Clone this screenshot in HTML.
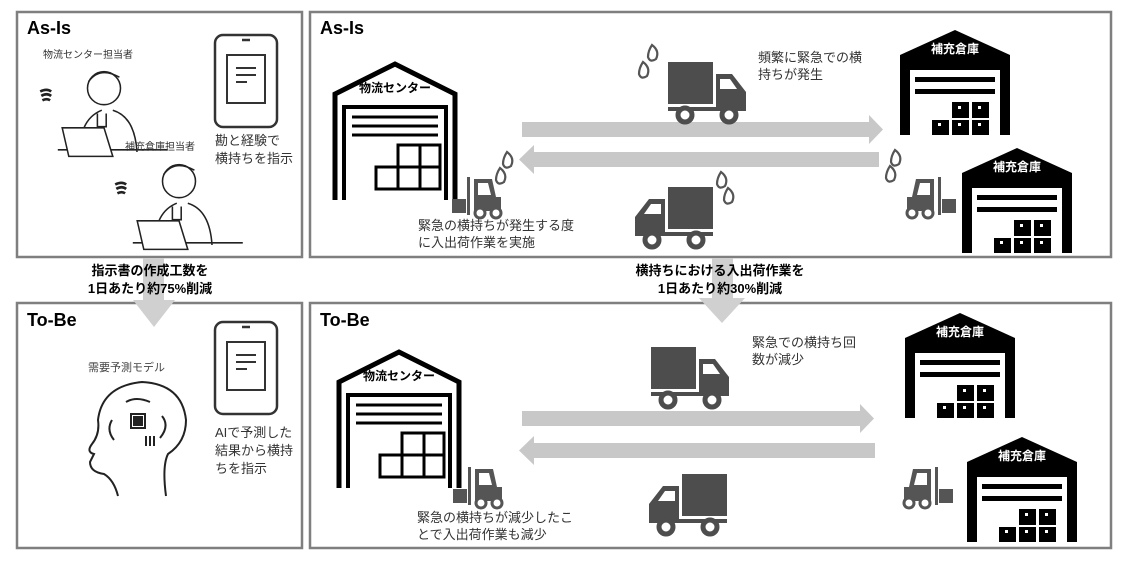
<!DOCTYPE html>
<html><head><meta charset="utf-8"><style>
body{margin:0;width:1129px;height:573px;background:#fff;overflow:hidden}
svg{display:block}
text{font-family:"Liberation Sans","Noto Sans CJK JP",sans-serif}
</style></head><body>
<svg width="1129" height="573" viewBox="0 0 1129 573" xmlns="http://www.w3.org/2000/svg">
<defs>
<g id="wh">
<polygon points="0,25 55,0 110,25 110,105 0,105" fill="#000"/>
<rect x="10" y="40" width="90" height="65" fill="#fff"/>
<rect x="15" y="47" width="80" height="5" fill="#000"/>
<rect x="15" y="59" width="80" height="5" fill="#000"/>
<rect x="52" y="72" width="17" height="16" fill="#000"/><rect x="72" y="72" width="17" height="16" fill="#000"/>
<rect x="32" y="90" width="17" height="15" fill="#000"/><rect x="52" y="90" width="17" height="15" fill="#000"/><rect x="72" y="90" width="17" height="15" fill="#000"/>
<g fill="#fff"><rect x="58" y="76" width="3" height="3"/><rect x="78" y="76" width="3" height="3"/><rect x="38" y="93" width="3" height="3"/><rect x="58" y="93" width="3" height="3"/><rect x="78" y="93" width="3" height="3"/></g>
</g>
<g id="lc" fill="none" stroke="#000">
<polyline points="3,138 3,32 63,2 123,32 123,138" stroke-width="5"/>
<polyline points="12,138 12,45 114,45 114,138" stroke-width="4"/>
<line x1="20" y1="55" x2="106" y2="55" stroke-width="3"/><line x1="20" y1="64" x2="106" y2="64" stroke-width="3"/><line x1="20" y1="73" x2="106" y2="73" stroke-width="3"/>
<rect x="66" y="83" width="22" height="22" stroke-width="3"/><rect x="88" y="83" width="20" height="22" stroke-width="3"/>
<rect x="44" y="105" width="22" height="22" stroke-width="3"/><rect x="66" y="105" width="22" height="22" stroke-width="3"/><rect x="88" y="105" width="20" height="22" stroke-width="3"/>
</g>
<g id="tr" fill="#4d4d4d">
<rect x="0" y="0" width="45" height="42"/>
<path d="M48,12 h16 l14,18 v18 h-30 z"/>
<rect x="0" y="45" width="78" height="4"/>
<circle cx="17" cy="53" r="7" fill="#fff" stroke="#4d4d4d" stroke-width="5"/>
<circle cx="61" cy="53" r="7" fill="#fff" stroke="#4d4d4d" stroke-width="5"/>
<path d="M52,17 h10 l7,10 h-17z" fill="#fff"/>
</g>
<g id="fk" fill="#555">
<rect x="0" y="22" width="14" height="14"/>
<rect x="15" y="0" width="3" height="38"/>
<path d="M22,2 h18 l4,18 h5 v14 h-27z"/>
<path d="M26,6 h10 l3,12 h-13z" fill="#fff"/>
<circle cx="28" cy="36" r="5" fill="#fff" stroke="#555" stroke-width="3"/>
<circle cx="44" cy="36" r="5" fill="#fff" stroke="#555" stroke-width="3"/>
</g>
<g id="drop" fill="none" stroke="#555" stroke-width="2.2"><path d="M0,0 q8,6 4,14 q-6,4 -8,-2 q0,-6 4,-12z"/></g>
<g id="tab" fill="none" stroke="#333" stroke-width="2.5">
<rect x="0" y="0" width="62" height="92" rx="8"/>
<line x1="27" y1="5" x2="35" y2="5"/>
<rect x="12" y="20" width="38" height="48" stroke-width="2"/>
<line x1="21" y1="33" x2="41" y2="33" stroke-width="2"/><line x1="21" y1="40" x2="41" y2="40" stroke-width="2"/><line x1="21" y1="47" x2="32" y2="47" stroke-width="2"/>
</g>
<g id="per" fill="none" stroke="#222" stroke-width="1.4">
<circle cx="40" cy="22" r="15"/>
<path d="M26,16 q10,-14 28,-4"/>
<path d="M18,80 q0,-30 20,-38 M48,42 q20,6 22,38"/>
<path d="M34,45 v12 h8 v-12"/>
<path d="M-2,78 h100"/>
<path d="M2,58 h38 l8,26 h-40z" fill="#fff"/>
<path d="M-18,25 q6,-3 10,0 M-17,29 q5,-3 9,0 M-16,33 q4,-2 7,0" stroke-width="2.4"/>
</g>
</defs>

<g fill="none" stroke="#7f7f7f" stroke-width="2.5">
<rect x="17" y="12" width="285" height="245"/>
<rect x="310" y="12" width="801" height="245"/>
<rect x="17" y="303" width="285" height="245"/>
<rect x="310" y="303" width="801" height="245"/>
</g>

<g fill="#d0d0d0">
<rect x="143" y="258" width="21" height="42"/><polygon points="133,300 175,300 154,327"/>
<rect x="712" y="258" width="21" height="40"/><polygon points="699,298 745,298 722,323"/>
</g>

<g font-weight="bold" font-size="18" fill="#000">
<text x="27" y="34">As-Is</text><text x="320" y="34">As-Is</text>
<text x="27" y="326">To-Be</text><text x="320" y="326">To-Be</text>
</g>
<g font-weight="bold" font-size="13" fill="#000" text-anchor="middle">
<text x="150" y="275">指示書の作成工数を</text><text x="150" y="293">1日あたり約75%削減</text>
<text x="720" y="275">横持ちにおける入出荷作業を</text><text x="720" y="293">1日あたり約30%削減</text>
</g>

<text x="43" y="58" font-size="10" fill="#333">物流センター担当者</text>
<use href="#per" transform="translate(60,64) scale(1.1)"/>
<text x="125" y="150" font-size="10" fill="#333">補充倉庫担当者</text>
<use href="#per" transform="translate(135,157) scale(1.1)"/>
<use href="#tab" x="215" y="35"/>
<text x="215" y="145" font-size="13" fill="#333">勘と経験で</text>
<text x="215" y="163" font-size="13" fill="#333">横持ちを指示</text>

<text x="88" y="371" font-size="11" fill="#444">需要予測モデル</text>
<g fill="none" stroke="#222" stroke-width="2">
<path d="M118,496 q-4,-16 -14,-22 q-14,-2 -14,-12 l4,-8 q-8,-2 -2,-10 q8,-10 6,-24 q4,-34 44,-38 q40,2 44,38 q0,22 -18,34 q-6,12 -2,42"/>
<rect x="131" y="414" width="14" height="14"/><rect x="134" y="417" width="8" height="8" fill="#222"/>
<path d="M112,420 q-6,10 2,20 M162,416 q8,10 -2,22 M126,402 q10,-6 24,0 M150,436 v10 M146,436 v10 M154,436 v10"/>
</g>
<use href="#tab" x="215" y="322"/>
<g font-size="13" fill="#333"><text x="215" y="437">AIで予測した</text><text x="215" y="455">結果から横持</text><text x="215" y="473">ちを指示</text></g>

<use href="#lc" x="332" y="62"/>
<text x="395" y="92" font-size="12" font-weight="bold" text-anchor="middle">物流センター</text>
<use href="#wh" x="900" y="30"/>
<text x="955" y="53" font-size="12" font-weight="bold" fill="#fff" text-anchor="middle">補充倉庫</text>
<use href="#wh" x="962" y="148"/>
<text x="1017" y="171" font-size="12" font-weight="bold" fill="#fff" text-anchor="middle">補充倉庫</text>
<g fill="#c8c8c8">
<rect x="522" y="122" width="349" height="15"/><polygon points="869,115 883,129.5 869,144"/>
<rect x="533" y="152" width="346" height="15"/><polygon points="534,145 519,159.5 534,174"/>
<rect x="522" y="411" width="340" height="15"/><polygon points="860,404 874,418.5 860,433"/>
<rect x="533" y="443" width="342" height="15"/><polygon points="534,436 519,450.5 534,465"/>
</g>
<use href="#tr" x="668" y="62"/>
<use href="#tr" transform="translate(713,187) scale(-1,1)"/>
<use href="#drop" x="652" y="45"/><use href="#drop" x="643" y="62"/>
<use href="#drop" x="721" y="172"/><use href="#drop" x="728" y="188"/>
<use href="#drop" x="507" y="152"/><use href="#drop" x="500" y="168"/>
<use href="#drop" x="895" y="150"/><use href="#drop" x="890" y="166"/>
<use href="#fk" x="452" y="177"/>
<use href="#fk" transform="translate(956,177) scale(-1,1)"/>
<g font-size="13" fill="#333">
<text x="758" y="62">頻繁に緊急での横</text><text x="758" y="79">持ちが発生</text>
<text x="418" y="230">緊急の横持ちが発生する度</text><text x="418" y="247">に入出荷作業を実施</text>
</g>

<use href="#lc" x="336" y="350"/>
<text x="399" y="380" font-size="12" font-weight="bold" text-anchor="middle">物流センター</text>
<use href="#wh" x="905" y="313"/>
<text x="960" y="336" font-size="12" font-weight="bold" fill="#fff" text-anchor="middle">補充倉庫</text>
<use href="#wh" x="967" y="437"/>
<text x="1022" y="460" font-size="12" font-weight="bold" fill="#fff" text-anchor="middle">補充倉庫</text>
<use href="#tr" x="651" y="347"/>
<use href="#tr" transform="translate(727,474) scale(-1,1)"/>
<use href="#fk" x="453" y="467"/>
<use href="#fk" transform="translate(953,467) scale(-1,1)"/>
<g font-size="13" fill="#333">
<text x="752" y="347">緊急での横持ち回</text><text x="752" y="364">数が減少</text>
<text x="417" y="522">緊急の横持ちが減少したこ</text><text x="417" y="539">とで入出荷作業も減少</text>
</g>
</svg>
</body></html>
